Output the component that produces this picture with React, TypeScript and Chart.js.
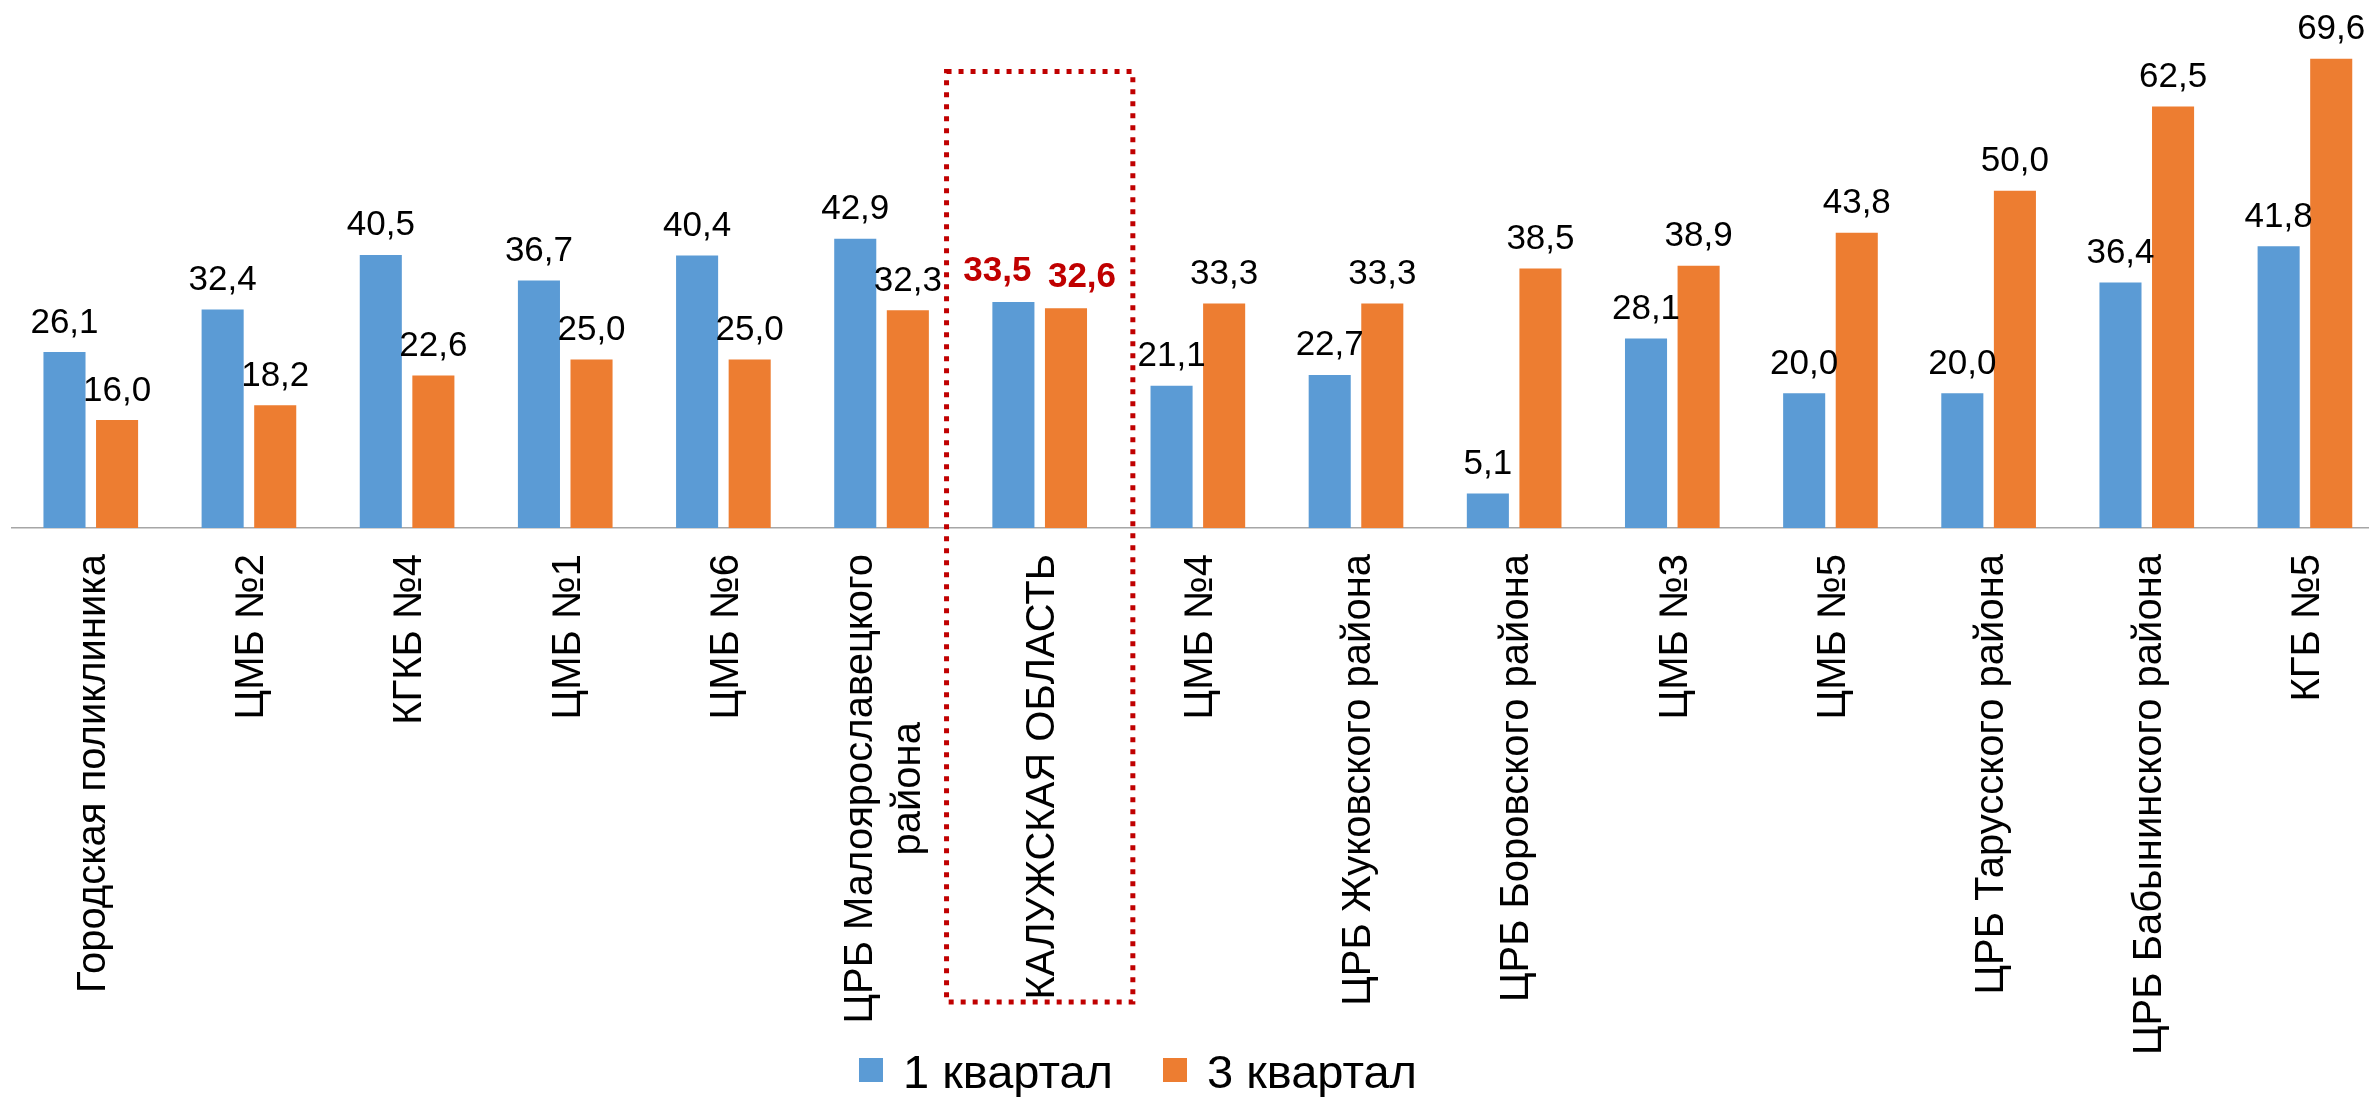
import React, { useEffect, useRef } from "react";
import { Chart, registerables } from "chart.js";

Chart.register(...registerables);

// ---------- DATA ----------
const categories: (string | string[])[] = [
  "Городская поликлиника",
  "ЦМБ №2",
  "КГКБ №4",
  "ЦМБ №1",
  "ЦМБ №6",
  ["ЦРБ Малоярославецкого", "района"],
  "КАЛУЖСКАЯ ОБЛАСТЬ",
  "ЦМБ №4",
  "ЦРБ Жуковского района",
  "ЦРБ Боровского района",
  "ЦМБ №3",
  "ЦМБ №5",
  "ЦРБ Тарусского района",
  "ЦРБ Бабынинского района",
  "КГБ №5",
];
const q1Values = [26.1, 32.4, 40.5, 36.7, 40.4, 42.9, 33.5, 21.1, 22.7, 5.1, 28.1, 20.0, 20.0, 36.4, 41.8];
const q3Values = [16.0, 18.2, 22.6, 25.0, 25.0, 32.3, 32.6, 33.3, 33.3, 38.5, 38.9, 43.8, 50.0, 62.5, 69.6];
const seriesNames = ["1 квартал", "3 квартал"];
const highlightIndex = 6;

// ---------- STYLE ----------
const W = 2369;
const H = 1097;
const CANVAS_W = 2384;
const FONT = '"Liberation Sans", Arial, sans-serif';
const COLORS = ["#5B9BD5", "#ED7D31"];
const HIGHLIGHT_COLOR = "#C00000";
const AXIS_BOTTOM = 528;
const Y_MAX = 78.3;
const HIGHLIGHT_TOP_VALUE = 67.7;

const fmt = (v: number) => v.toFixed(1).replace(".", ",");

const overlayPlugin = {
  id: "overlay",
  afterDraw(chart: any) {
    const ctx: CanvasRenderingContext2D = chart.ctx;
    const xs = chart.scales.x;
    const ys = chart.scales.y;
    const area = chart.chartArea;
    const catW = (area.right - area.left) / categories.length;

    // data labels
    chart.data.datasets.forEach((ds: any, di: number) => {
      const meta = chart.getDatasetMeta(di);
      meta.data.forEach((el: any, i: number) => {
        const v = ds.data[i];
        ctx.save();
        ctx.textAlign = "center";
        ctx.textBaseline = "alphabetic";
        if (i === highlightIndex) {
          ctx.font = `bold 35px ${FONT}`;
          ctx.fillStyle = HIGHLIGHT_COLOR;
          const off = di === 0 ? -16 : 16;
          ctx.fillText(fmt(v), el.x + off, el.y - 21);
        } else {
          ctx.font = `35px ${FONT}`;
          ctx.fillStyle = "#000000";
          ctx.fillText(fmt(v), el.x, el.y - 19.5);
        }
        ctx.restore();
      });
    });

    // category labels (rotated, centered multi-line)
    const tickFont = 40;
    const lineH = 48;
    ctx.save();
    ctx.font = `${tickFont}px ${FONT}`;
    ctx.fillStyle = "#000000";
    categories.forEach((lab, i) => {
      const lines = Array.isArray(lab) ? lab : [lab];
      const x = xs.getPixelForValue(i);
      const y0 = area.bottom + 26;
      const maxW = Math.max(...lines.map((l) => ctx.measureText(l).width));
      lines.forEach((line, k) => {
        ctx.save();
        const bx = x + tickFont * 0.358 + (k - (lines.length - 1) / 2) * lineH;
        ctx.translate(bx, y0);
        ctx.rotate(-Math.PI / 2);
        ctx.textAlign = "center";
        ctx.textBaseline = "alphabetic";
        ctx.fillText(line, -maxW / 2, 0);
        ctx.restore();
      });
    });
    ctx.restore();

    // highlight dotted box
    const cx = xs.getPixelForValue(highlightIndex);
    const half = catW * 0.589;
    const top = ys.getPixelForValue(HIGHLIGHT_TOP_VALUE);
    const bottom = area.bottom + 474;
    ctx.save();
    ctx.strokeStyle = HIGHLIGHT_COLOR;
    ctx.lineWidth = 5;
    ctx.setLineDash([5, 7]);
    ctx.lineCap = "butt";
    ctx.strokeRect(cx - half, top, half * 2, bottom - top);
    ctx.restore();

    // legend
    ctx.save();
    const lf = 47;
    ctx.font = `${lf}px ${FONT}`;
    const sq = 24;
    const gapText = 20;
    const gapItem = 50;
    const widths = seriesNames.map((n) => ctx.measureText(n).width);
    const total = widths.reduce((a, b) => a + b, 0) + 2 * (sq + gapText) + gapItem;
    let lx = 1138 - total / 2;
    const baseY = 1088;
    seriesNames.forEach((n, i) => {
      ctx.fillStyle = COLORS[i];
      ctx.fillRect(lx, 1058, sq, sq);
      lx += sq + gapText;
      ctx.fillStyle = "#000000";
      ctx.textAlign = "left";
      ctx.textBaseline = "alphabetic";
      ctx.fillText(n, lx, baseY);
      lx += widths[i] + gapItem;
    });
    ctx.restore();
  },
};

export default function App() {
  const ref = useRef<HTMLCanvasElement | null>(null);

  useEffect(() => {
    document.body.style.margin = "0";
    document.body.style.overflow = "hidden";
    const canvas = ref.current;
    if (!canvas) return;
    const chart = new Chart(canvas, {
      type: "bar",
      data: {
        labels: categories.map((c) => (Array.isArray(c) ? c.join(" ") : c)),
        datasets: [
          {
            label: seriesNames[0],
            data: q1Values,
            backgroundColor: COLORS[0],
            borderWidth: 0,
            categoryPercentage: 0.665,
            barPercentage: 0.8,
          },
          {
            label: seriesNames[1],
            data: q3Values,
            backgroundColor: COLORS[1],
            borderWidth: 0,
            categoryPercentage: 0.665,
            barPercentage: 0.8,
          },
        ],
      },
      options: {
        responsive: false,
        animation: false,
        devicePixelRatio: 1,
        layout: { padding: { left: 11.7, right: 0, top: 0, bottom: 0 } },
        plugins: {
          legend: { display: false },
          tooltip: { enabled: false },
          title: { display: false },
        },
        scales: {
          x: {
            grid: { display: false },
            border: { display: true, color: "#A6A6A6", width: 1.5 },
            ticks: { display: false },
            afterFit: (s: any) => {
              s.height = H - AXIS_BOTTOM;
            },
          },
          y: { display: false, min: 0, max: Y_MAX },
        },
      },
      plugins: [overlayPlugin],
    } as any);
    return () => chart.destroy();
  }, []);

  return (
    <div style={{ width: W, height: H, overflow: "hidden", position: "relative", background: "#fff" }}>
      <canvas ref={ref} width={CANVAS_W} height={H} style={{ width: CANVAS_W, height: H, display: "block" }} />
    </div>
  );
}
